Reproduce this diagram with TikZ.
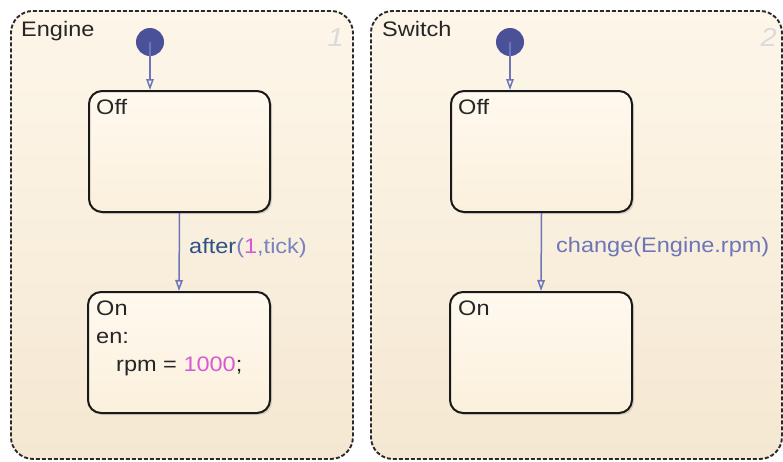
\documentclass[tikz,border=0pt]{standalone}
\usepackage{fontspec}
\setmainfont{Liberation Sans}[FakeStretch=1.12]
\usetikzlibrary{arrows.meta,shadows}
\definecolor{bgtop}{HTML}{FDF6E9}
\definecolor{bgbot}{HTML}{F5E8D2}
\definecolor{statetop}{HTML}{FFF9EF}
\definecolor{statebot}{HTML}{FBF0DC}
\definecolor{dotblue}{HTML}{4A5199}
\definecolor{transblue}{HTML}{6D75B8}
\definecolor{kwblue}{HTML}{2F5285}
\definecolor{punct}{HTML}{7B82C2}
\definecolor{numpink}{HTML}{D65AD2}
\definecolor{chartnum}{HTML}{DADADA}
\definecolor{border}{HTML}{2A2A2A}
\begin{document}
\begin{tikzpicture}[x=1pt,y=-1pt,
  chart/.style={draw=border, line width=1.9pt, dash pattern=on 4pt off 2pt,
    rounded corners=22pt, top color=bgtop, bottom color=bgbot,
    inner sep=0pt, anchor=north west, minimum height=448pt},
  statebox/.style={draw=black!90, line width=2pt, rounded corners=13pt,
    top color=statetop, bottom color=statebot, inner sep=0pt,
    anchor=north west, minimum width=181pt, minimum height=121pt,
    drop shadow={opacity=0.25, shadow xshift=2pt, shadow yshift=-2pt}},
  initdot/.style={circle, fill=dotblue, minimum size=28pt, inner sep=0pt},
  trans/.style={draw=transblue, line width=1.5pt,
    -{Triangle[open, length=11pt, width=7.5pt]}},
  txt/.style={inner sep=0pt, anchor=base west, text=black!85,
    font=\fontsize{21pt}{25pt}\selectfont},
  numtxt/.style={inner sep=0pt, anchor=base east, text=chartnum,
    font=\fontsize{26pt}{30pt}\selectfont\itshape}
]
\useasboundingbox (0,0) rectangle (783,461);

% charts
\node[chart, minimum width=342pt] (engine) at (10,10) {};
\node[chart, minimum width=411pt] (switch) at (370,10) {};

% states
\node[statebox] (eoff) at (88,90) {};
\node[statebox, minimum width=182pt] (eon) at (87,291) {};
\node[statebox] (soff) at (450,90) {};
\node[statebox, minimum width=182pt] (son) at (449,291) {};

% initial dots
\node[initdot] (edot) at (150,42) {};
\node[initdot] (sdot) at (510,42) {};

% transitions
\draw[trans] (edot.center) -- (edot |- eoff.north);
\draw[trans] (sdot.center) -- (sdot |- soff.north);
\draw[trans] (eoff.south) -- (eon.north);
\draw[trans] (soff.south) -- (son.north);

% chart labels
\node[txt] (enginelbl) at (21,36) {Engine};
\node[txt] (switchlbl) at (382,36) {Switch};
\node[numtxt] (num1) at (344,46) {1};
\node[numtxt] (num2) at (777,46) {2};

% state labels
\node[txt] (eofflbl) at (96,114) {Off};
\node[txt] (eonlbl) at (96,315) {On};
\node[txt] (enlbl) at (96,343) {en:};
\node[txt] (rpmlbl) at (116,371) {rpm = \textcolor{numpink}{1000};};
\node[txt] (sofflbl) at (458,114) {Off};
\node[txt] (sonlbl) at (458,315) {On};

% transition labels
\node[txt, text=kwblue] (afterlbl) at (189,253)
  {after\textcolor{punct}{(}\textcolor{numpink}{1}\textcolor{punct}{,tick)}};
\node[txt, text=transblue] (changelbl) at (556,252) {change(Engine.rpm)};
\end{tikzpicture}
\end{document}
